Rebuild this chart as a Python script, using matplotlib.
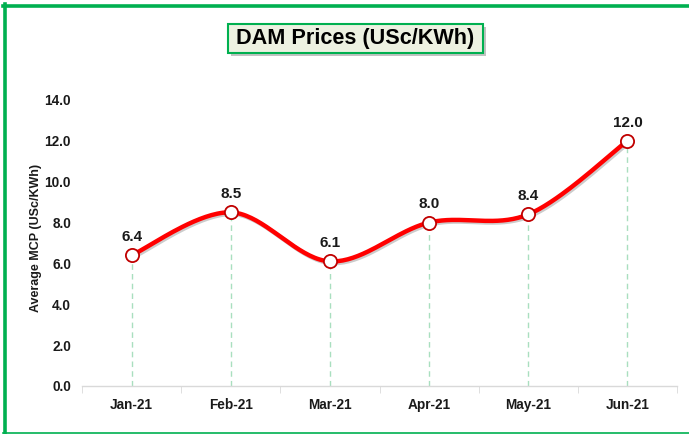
import numpy as np
import matplotlib.pyplot as plt
import matplotlib.patches as mpatches
import matplotlib.patheffects as pe
from matplotlib.lines import Line2D

plt.rcParams['font.family'] = ['Liberation Sans', 'DejaVu Sans']

# data
months = ['Jan-21', 'Feb-21', 'Mar-21', 'Apr-21', 'May-21', 'Jun-21']
prices = [6.4, 8.5, 6.1, 8.0, 8.4, 12.0]
yticks = [0, 2, 4, 6, 8, 10, 12, 14]

red = '#FF0000'
green = '#00B050'

def smooth(xs, ys, n=40):
    # Catmull-Rom style smoothing like Excel's "smoothed line"
    xs = np.asarray(xs, float)
    ys = np.asarray(ys, float)
    px = np.concatenate([[xs[0]], xs, [xs[-1]]])
    py = np.concatenate([[ys[0]], ys, [ys[-1]]])
    ox, oy = [], []
    for i in range(1, len(px) - 2):
        p0 = np.array([px[i], py[i]])
        p3 = np.array([px[i + 1], py[i + 1]])
        c1 = p0 + (p3 - np.array([px[i - 1], py[i - 1]])) / 6.0
        c2 = p3 - (np.array([px[i + 2], py[i + 2]]) - p0) / 6.0
        t = np.linspace(0, 1, n)[:, None]
        b = (1 - t) ** 3 * p0 + 3 * (1 - t) ** 2 * t * c1 + 3 * (1 - t) * t ** 2 * c2 + t ** 3 * p3
        ox.extend(b[:, 0])
        oy.extend(b[:, 1])
    return np.array(ox), np.array(oy)

fig = plt.figure(figsize=(6.89, 4.34), dpi=100)
ax = fig.add_axes([0.119, 0.1106, 0.8636, 0.659])

x = np.arange(len(months))

# dashed drop lines
for xi, yi in zip(x, prices):
    ax.plot([xi, xi], [0, yi], color='#A9DFBF', lw=1.0, ls=(0, (4, 3)), zorder=1)

sx, sy = smooth(x, prices)
ax.plot(sx, sy, color=red, lw=3.2, solid_capstyle='round', zorder=3,
        path_effects=[pe.SimpleLineShadow(offset=(1.2, -1.2), alpha=0.2, shadow_color='black'), pe.Normal()])
ax.plot(x, prices, ls='none', marker='o', ms=9.5, mfc='white', mec='#C00000', mew=1.3, zorder=4)

for xi, yi in zip(x, prices):
    ax.annotate(f'{yi:.1f}', (xi, yi), xytext=(0, 8), textcoords='offset points',
                ha='center', va='bottom', fontsize=11, fontweight='bold', color='#1a1a1a')

ax.set_xlim(-0.5, 5.5)
ax.set_ylim(0, 14)
ax.set_yticks(yticks)
ax.set_yticklabels([f'{v:.1f}' for v in yticks], fontsize=9.8, fontweight='bold', color='#1a1a1a')
ax.set_xticks(x)
ax.set_xticklabels(months, fontsize=9.8, fontweight='bold', color='#1a1a1a')
ax.set_xticks(np.arange(-0.5, 6.0, 1.0), minor=True)
ax.tick_params(axis='x', which='major', length=0, pad=9)
ax.tick_params(axis='x', which='minor', length=5, color='#D9D9D9', direction='out')
ax.tick_params(axis='y', length=0, pad=8)
for s in ['top', 'right', 'left']:
    ax.spines[s].set_visible(False)
ax.spines['bottom'].set_color('#D9D9D9')
ax.spines['bottom'].set_linewidth(1.0)
ax.set_ylabel('Average MCP (USc/KWh)', fontsize=9, fontweight='bold', color='#1a1a1a')
ax.yaxis.set_label_coords(-0.067, 0.516)

# title box with shadow
W, H = 689.0, 434.0
bx0, bx1, by0, by1 = 228, 483, 24, 53
fig.patches.append(mpatches.Rectangle(((bx0 + 3) / W, 1 - (by1 + 3) / H), (bx1 - bx0) / W, (by1 - by0) / H,
                                      transform=fig.transFigure, fc='#9a9a9a', ec='none', alpha=0.6, zorder=1))
fig.patches.append(mpatches.Rectangle((bx0 / W, 1 - by1 / H), (bx1 - bx0) / W, (by1 - by0) / H,
                                      transform=fig.transFigure, fc='#EDF1E1', ec=green, lw=1.5, zorder=2))
fig.text((bx0 + bx1) / 2 / W, 1 - (by0 + by1) / 2 / H, 'DAM Prices (USc/KWh)', ha='center', va='center',
         fontsize=15.6, fontweight='bold', color='black', zorder=3)

# green frame
fig.lines.append(Line2D([4.5 / W, 4.5 / W], [0, 1 - 4 / H], transform=fig.transFigure, color=green, lw=2.6))
fig.lines.append(Line2D([3 / W, 1], [1 - 5.5 / H, 1 - 5.5 / H], transform=fig.transFigure, color=green, lw=2.6))
fig.lines.append(Line2D([3 / W, 1], [1.5 / H, 1.5 / H], transform=fig.transFigure, color=green, lw=1.2))

fig.savefig('out.png', dpi=100, facecolor='white')
